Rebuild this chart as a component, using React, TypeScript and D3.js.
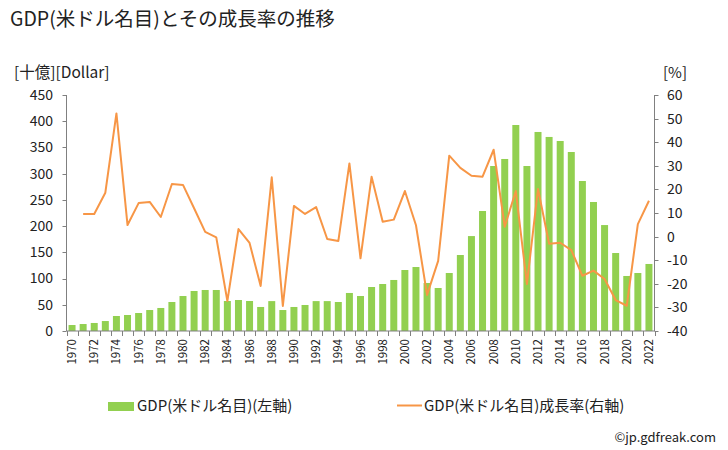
import React from "react";
import * as d3 from "d3";

const years: number[] = d3.range(1970, 2023);
const gdp: number[] = [
  11.4, 13.3, 15.3, 19, 28.6, 30.5, 34.3, 40, 43.9, 55.3,
  66.7, 76.3, 78.2, 78.2, 57.2, 59.1, 57.2, 45.8, 57, 40,
  45.8, 49.6, 57, 57, 55.3, 72.5, 66.7, 83.9, 89.6, 97.3,
  116.3, 122, 91.5, 82, 110.6, 144.9, 181, 228.8, 314.6, 328,
  392.8, 314.6, 379.5, 370, 362.3, 341.3, 286, 246, 202, 148.7,
  104.9, 110.6, 127.8,
];
const growth: (number | null)[] = [
  null, 9.6, 9.6, 18.6, 52.2, 4.9, 14.2, 14.7, 8.3, 22.3,
  21.9, 12, 2, -0.3, -27.3, 3.2, -2.7, -20.9, 25.1, -29.4,
  13, 9.6, 12.5, -1, -1.9, 31, -9.2, 25.4, 6.3, 7.2,
  19.3, 4.8, -24.7, -10.3, 34.3, 29.1, 25.8, 25.4, 36.8, 4.2,
  19.3, -20.1, 20.2, -3, -2.6, -5.7, -16.6, -14.4, -18, -26.9,
  -29.3, 5.3, 15.2,
];
const leftTicks: number[] = [0, 50, 100, 150, 200, 250, 300, 350, 400, 450];
const rightTicks: number[] = [-40, -30, -20, -10, 0, 10, 20, 30, 40, 50, 60];

const title = "GDP(米ドル名目)とその成長率の推移";
const leftUnit = "[十億][Dollar]";
const rightUnit = "[%]";
const legendBar = "GDP(米ドル名目)(左軸)";
const legendLine = "GDP(米ドル名目)成長率(右軸)";
const credit = "©jp.gdfreak.com";

const FONT = "'Noto Sans CJK JP', 'Noto Sans', sans-serif";
const GREEN = "#92D050";
const ORANGE = "#F79646";
const AXIS = "#808080";

export default function App() {
  const W = 728, H = 450;
  const left = 66.5, right = 654.5, top = 95, bottom = 331;

  const x = d3.scaleBand<number>().domain(years).range([left, right]).paddingInner(0.37).paddingOuter(0.185);
  const xb = d3.scaleBand<number>().domain(years).range([left, right]);
  const yL = d3.scaleLinear().domain([0, 450]).range([bottom, top]);
  const yR = d3.scaleLinear().domain([-40, 60]).range([bottom, top]);

  const lineGen = d3
    .line<number | null>()
    .defined((d) => d !== null)
    .x((_, i) => (xb(years[i]) as number) + xb.bandwidth() / 2)
    .y((d) => yR(d as number));

  const boundaries = d3.range(years.length + 1).map((i) => left + i * xb.step());

  return (
    <svg width={W} height={H} style={{ position: "absolute", left: 0, top: 0, fontFamily: FONT }}>
      <rect x={0} y={0} width={W} height={H} fill="#fff" />
      <text x={10} y={26} fontSize={19.5} fill="#222">{title}</text>
      <text x={14} y={78} fontSize={15.5} fill="#222">{leftUnit}</text>
      <text x={663} y={78} fontSize={15} fill="#222">{rightUnit}</text>

      {/* bars */}
      {gdp.map((v, i) => (
        <rect key={i} x={x(years[i])} y={yL(v)} width={x.bandwidth()} height={yL(0) - yL(v)} fill={GREEN} />
      ))}

      {/* line */}
      <path d={lineGen(growth) || ""} fill="none" stroke={ORANGE} strokeWidth={2} strokeLinejoin="round" />

      {/* left axis */}
      <line x1={left} x2={left} y1={top} y2={bottom} stroke={AXIS} />
      {leftTicks.map((t) => (
        <g key={t}>
          <line x1={left - 4} x2={left} y1={Math.round(yL(t)) + 0.5} y2={Math.round(yL(t)) + 0.5} stroke={AXIS} />
          <text x={53} y={yL(t)} dy="0.35em" textAnchor="end" fontSize={14} fill="#222">{t}</text>
        </g>
      ))}

      {/* right axis */}
      <line x1={right} x2={right} y1={top} y2={bottom} stroke={AXIS} />
      {rightTicks.map((t) => (
        <g key={t}>
          <line x1={right} x2={right + 4} y1={Math.round(yR(t)) + 0.5} y2={Math.round(yR(t)) + 0.5} stroke={AXIS} />
          <text x={667} y={yR(t)} dy="0.35em" textAnchor="start" fontSize={14} fill="#222">{t}</text>
        </g>
      ))}

      {/* bottom axis */}
      <line x1={left} x2={right} y1={bottom} y2={bottom} stroke={AXIS} />
      {boundaries.map((bx, i) => (
        <line key={i} x1={Math.round(bx) + 0.5} x2={Math.round(bx) + 0.5} y1={bottom} y2={bottom + 5} stroke={AXIS} />
      ))}
      {years.filter((yr) => yr % 2 === 0).map((yr) => {
        const cx = (xb(yr) as number) + xb.bandwidth() / 2;
        return (
          <text key={yr} transform={`translate(${cx},${bottom + 8}) rotate(-90)`} textAnchor="end" dy="0.35em" fontSize={11.5} fill="#222">
            {yr}
          </text>
        );
      })}

      {/* legend */}
      <rect x={108} y={402} width={26} height={9} fill={GREEN} />
      <text x={137} y={411} fontSize={15} fill="#222">{legendBar}</text>
      <line x1={397} x2={422} y1={405.5} y2={405.5} stroke={ORANGE} strokeWidth={2} />
      <text x={424} y={411} fontSize={15} fill="#222">{legendLine}</text>

      <text x={716} y={442} textAnchor="end" fontSize={13} fill="#222">{credit}</text>
    </svg>
  );
}
